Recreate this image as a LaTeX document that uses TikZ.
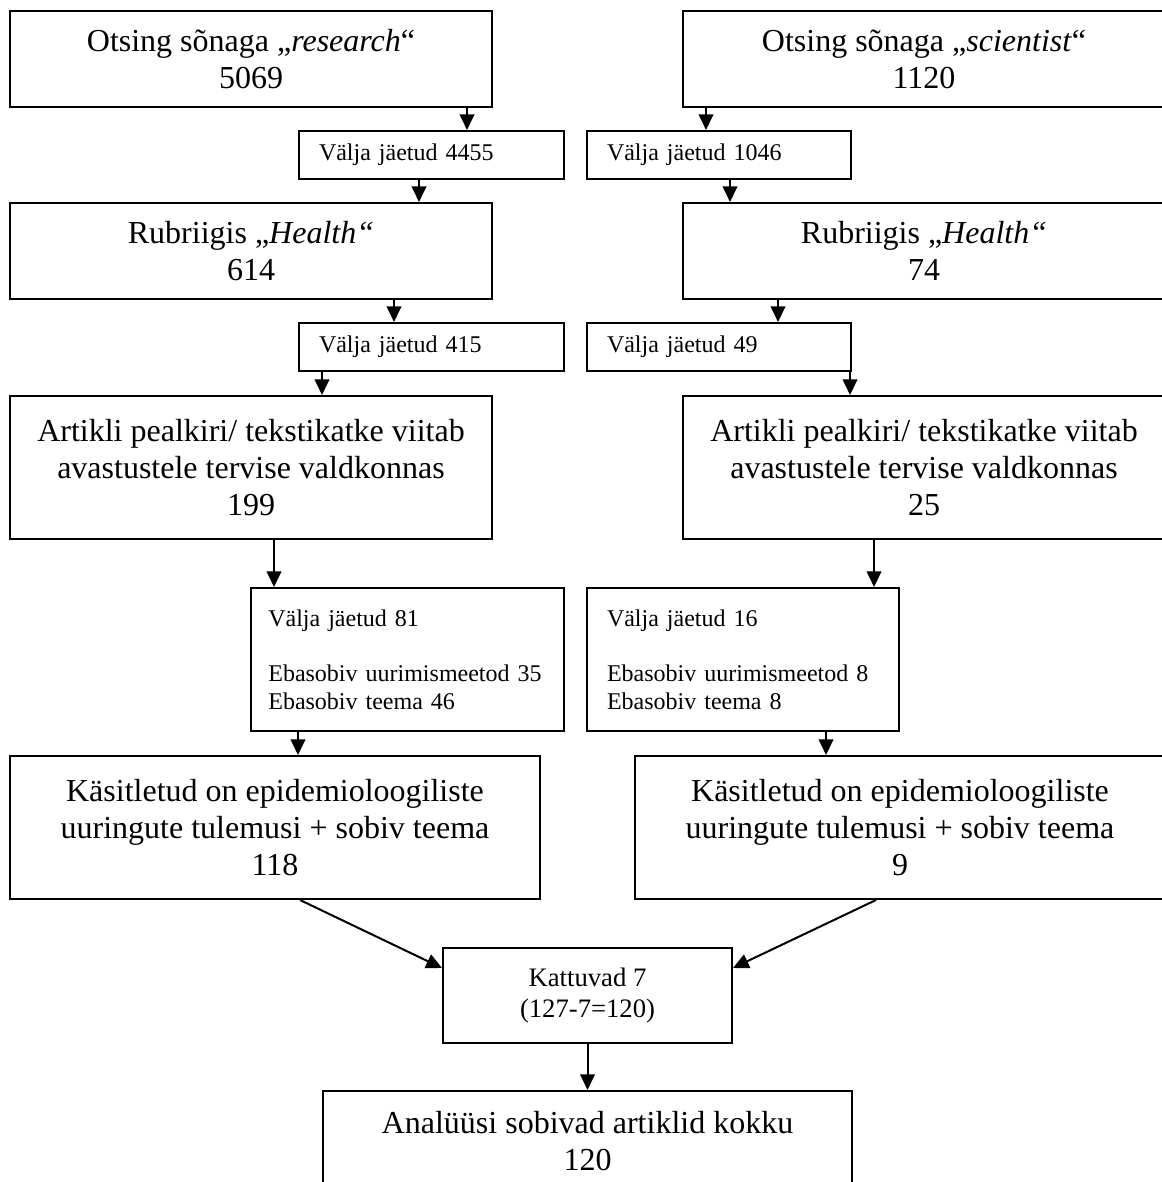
\documentclass[tikz,border=0pt]{standalone}
\usepackage{fontspec}
\setmainfont{Liberation Serif}
\usetikzlibrary{arrows.meta}

\begin{document}
\begin{tikzpicture}[x=0.375pt,y=-0.375pt,
    bigbox/.style={draw,line width=0.75pt,anchor=north west,inner sep=0pt,align=center,font=\fontsize{12}{13.8}\selectfont},
    notebox/.style={draw,line width=0.75pt,anchor=north west,inner xsep=7.5pt,inner ysep=0pt,align=left,font=\fontsize{9}{10.35}\selectfont},
    arr/.style={-{Triangle[length=5.9pt,width=5.5pt]},line width=0.75pt}]
              \useasboundingbox (0,0) rectangle (1161,1182);
              % Left column: research
              \node[bigbox,minimum width=180.75pt,minimum height=36pt] (r1) at (9,10) {Otsing sõnaga „\textit{research}“\\5069};
              \node[notebox,text width=84.375pt,minimum height=18pt] (r2) at (298,130) {Välja jäetud 4455};
              \node[bigbox,minimum width=180.75pt,minimum height=36pt] (r3) at (9,202) {Rubriigis „\textit{Health“}\\614};
              \node[notebox,text width=84.375pt,minimum height=18pt] (r4) at (298,322) {Välja jäetud 415};
              \node[bigbox,minimum width=180.75pt,minimum height=53.625pt] (r5) at (9,395) {Artikli pealkiri/ tekstikatke viitab\\avastustele tervise valdkonnas\\199};
              \node[notebox,inner xsep=6.5pt,text width=104.375pt,minimum height=53.625pt] (r6) at (250,587) {Välja jäetud 81\\[10.35pt]Ebasobiv uurimismeetod 35\\Ebasobiv teema 46};
              \node[bigbox,minimum width=198.75pt,minimum height=53.625pt] (r7) at (9,755) {Käsitletud on epidemioloogiliste\\uuringute tulemusi + sobiv teema\\118};
              % Right column: scientist
              \node[bigbox,minimum width=180.75pt,minimum height=36pt] (s1) at (682,10) {Otsing sõnaga „\textit{scientist}“\\1120};
              \node[notebox,text width=84pt,minimum height=18pt] (s2) at (586,130) {Välja jäetud 1046};
              \node[bigbox,minimum width=180.75pt,minimum height=36pt] (s3) at (682,202) {Rubriigis „\textit{Health“}\\74};
              \node[notebox,text width=84pt,minimum height=18pt] (s4) at (586,322) {Välja jäetud 49};
              \node[bigbox,minimum width=180.75pt,minimum height=53.625pt] (s5) at (682,395) {Artikli pealkiri/ tekstikatke viitab\\avastustele tervise valdkonnas\\25};
              \node[notebox,text width=102pt,minimum height=53.625pt] (s6) at (586,587) {Välja jäetud 16\\[10.35pt]Ebasobiv uurimismeetod 8\\Ebasobiv teema 8};
              \node[bigbox,minimum width=198.75pt,minimum height=53.625pt] (s7) at (634,755) {Käsitletud on epidemioloogiliste\\uuringute tulemusi + sobiv teema\\9};
              % Merge and total
              \node[bigbox,font=\fontsize{10}{11.5}\selectfont,minimum width=108.375pt,minimum height=35.625pt] (kat) at (442,947) {Kattuvad 7\\(127-7=120)};
              \node[bigbox,minimum width=198.375pt,minimum height=37.5pt] (total) at (322,1090) {Analüüsi sobivad artiklid kokku\\120};
              % Arrows down each column
              \foreach \a/\b/\x in {r1/r2/467,r2/r3/419,r3/r4/394,r4/r5/322,r5/r6/274,r6/r7/298,
                                    s1/s2/706,s2/s3/730,s3/s4/778,s4/s5/850,s5/s6/874,s6/s7/826}
                \draw[arr] (\x,0 |- \a.south) -- (\x,0 |- \b.north);
              \draw[arr] (300,0 |- r7.south) -- ([yshift=-7.875pt]kat.north west);
              \draw[arr] (876,0 |- s7.south) -- ([yshift=-7.875pt]kat.north east);
              \draw[arr] (kat) -- (total);
            \end{tikzpicture}
\end{document}
